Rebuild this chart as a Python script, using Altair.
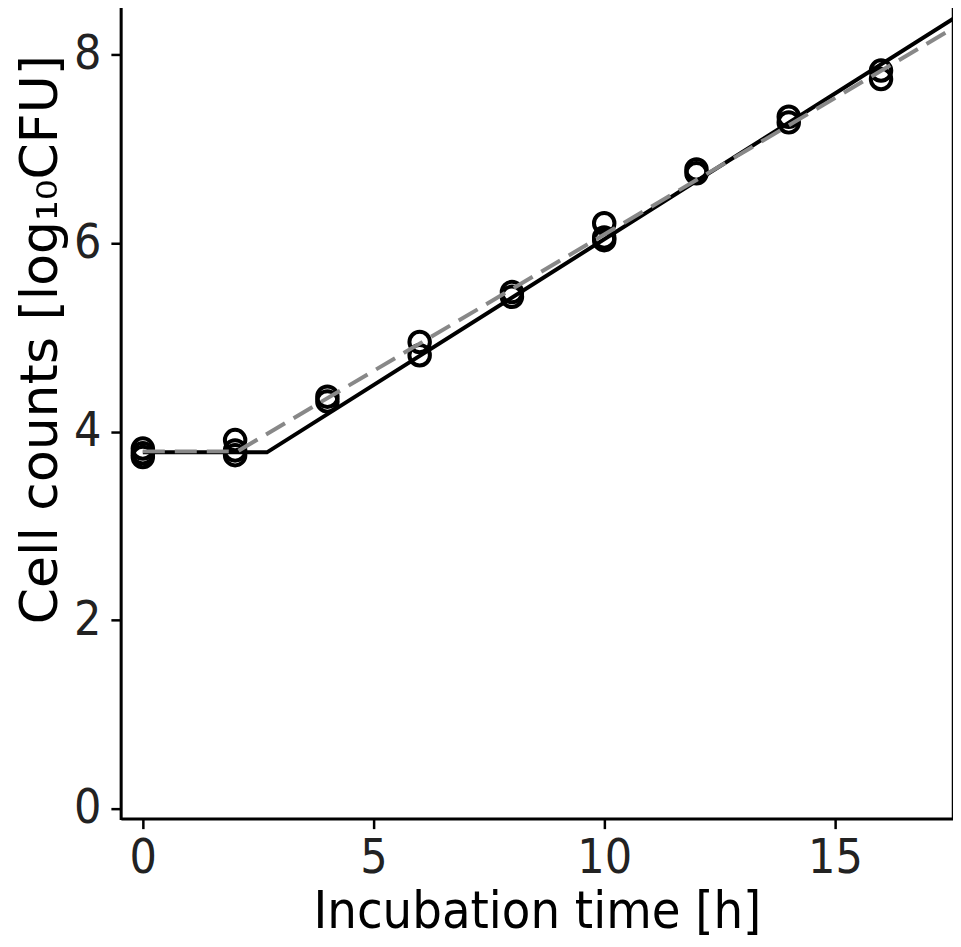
import altair as alt
import pandas as pd

# Observed cell counts (replicates)
obs_time = [0, 0, 0, 2, 2, 2, 4, 4, 6, 6, 8, 8, 10, 10, 10, 12, 12, 14, 14, 16, 16]
obs_count = [3.82, 3.77, 3.73, 3.91, 3.80, 3.75, 4.37, 4.32, 4.95, 4.81, 5.48, 5.43,
             6.21, 6.06, 6.03, 6.78, 6.74, 7.34, 7.28, 7.83, 7.74]

# Fitted models (lag + linear growth)
fit1_time = [0, 2.69, 17.6]
fit1_count = [3.78, 3.78, 8.39]
fit2_time = [0, 2.05, 17.6]
fit2_count = [3.79, 3.79, 8.29]

x_ticks = [0, 5, 10, 15]
y_ticks = [0, 2, 4, 6, 8]
x_domain = [-0.476, 17.56]
y_domain = [-0.106, 8.52]

obs = pd.DataFrame({"t": obs_time, "v": obs_count})
fit1 = pd.DataFrame({"t": fit1_time, "v": fit1_count})
fit2 = pd.DataFrame({"t": fit2_time, "v": fit2_count})

xenc = alt.X("t:Q", scale=alt.Scale(domain=x_domain, nice=False, zero=False),
             axis=alt.Axis(values=x_ticks, title="Incubation time [h]", titleY=93,
                           titleBaseline="middle", labelPadding=6, format="d"))
yenc = alt.Y("v:Q", scale=alt.Scale(domain=y_domain, nice=False, zero=False),
             axis=alt.Axis(values=y_ticks, title="Cell counts [log₁₀CFU]", titleX=-80,
                           titleY=334, titleAngle=-90, titleBaseline="middle",
                           titleAlign="center", labelPadding=10, format="d"))

points = alt.Chart(obs).mark_point(shape="circle", filled=False, size=420,
                                   strokeWidth=4, color="black", opacity=1, clip=True).encode(x=xenc, y=yenc)
line1 = alt.Chart(fit1).mark_line(color="black", strokeWidth=4, clip=True).encode(x="t:Q", y="v:Q")
line2 = alt.Chart(fit2).mark_line(color="#888888", strokeWidth=4, strokeDash=[22, 10], clip=True).encode(x="t:Q", y="v:Q")

chart = alt.layer(points, line1, line2).properties(
    width=833, height=814,
    padding={"left": 113, "top": -3, "right": 0, "bottom": 120},
    autosize=alt.AutoSizeParams(type="none"),
).configure_view(stroke="black", strokeWidth=2.5).configure_axis(
    grid=False, domainColor="black", domainWidth=2.5, tickColor="black", tickWidth=2.5,
    tickSize=10, labelFont="DejaVu Sans Condensed", labelFontSize=48, labelColor="#222222",
    titleFont="DejaVu Sans Condensed", titleFontSize=52, titleFontWeight="normal", titleColor="black",
).configure_axisY(titleFont="DejaVu Sans", titleFontSize=52)

chart.save("out.html", embed_options={"renderer": "svg", "actions": False})
